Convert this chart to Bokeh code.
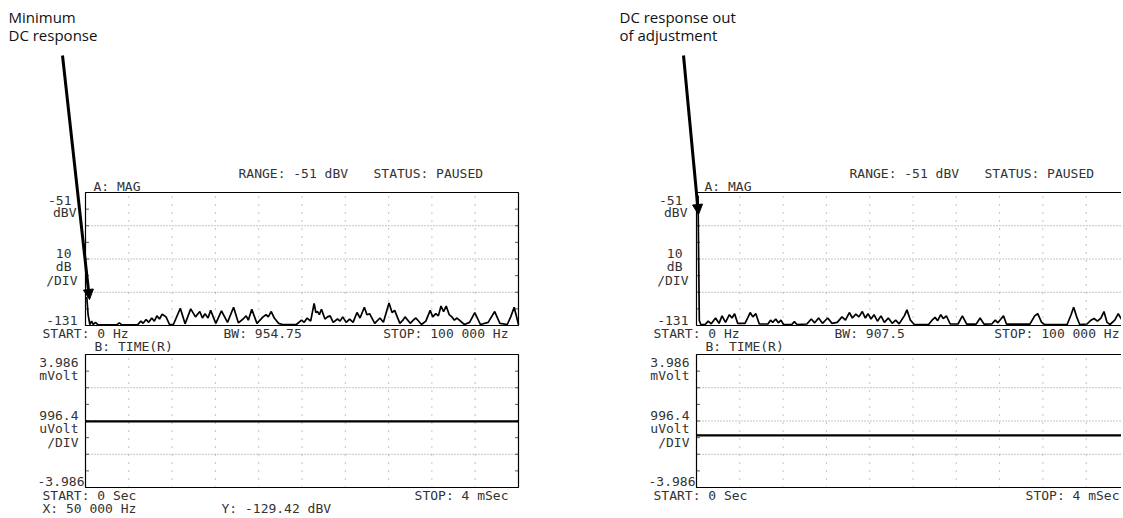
from bokeh.plotting import figure
from bokeh.models import Range1d, Label, Arrow, NormalHead
from bokeh.embed import file_html
from bokeh.resources import INLINE

# ---------------- data ----------------
freq_left_khz = [0, 0.3, 0.6, 1.0, 1.4, 1.8, 2.3, 2.9, 7.2, 7.8, 8.4, 12.0, 12.8, 13.3, 14.0, 14.6,
                 15.3, 15.9, 16.5, 17.1, 17.7, 18.6, 19.4, 20.3, 21.9, 23.0, 24.3, 25.4, 26.4, 27.0,
                 27.6, 28.3, 28.9, 30.1, 31.4, 32.8, 34.2, 35.3, 36.4, 37.1, 37.6, 38.4, 39.6, 41.0,
                 41.7, 42.2, 42.9, 43.6, 44.6, 45.5, 48.7, 49.9, 50.5, 51.2, 52.0, 52.8, 53.2, 53.6,
                 54.0, 54.5, 55.3, 55.9, 56.5, 57.2, 58.2, 58.8, 59.4, 60.2, 61.0, 61.8, 62.7, 63.4,
                 64.4, 65.0, 65.6, 66.8, 68.0, 68.8, 70.1, 70.8, 71.4, 72.6, 73.3, 73.8, 75.0, 75.7,
                 76.3, 77.6, 78.6, 79.6, 80.2, 80.9, 81.5, 82.1, 82.7, 83.3, 84.0, 84.6, 85.2, 85.8,
                 87.5, 88.7, 89.9, 91.2, 93.0, 94.5, 95.7, 97.4, 98.2, 99.0, 100.0]
mag_left_dbv = [-115, -114, -124.5, -130.4, -128.4, -130.4, -129.1, -130.6, -130.6, -129.4, -130.6,
                -130.6, -128.4, -129.7, -127.4, -129.1, -126.5, -128.4, -125.2, -127.1, -124.2,
                -125.8, -130.4, -130.4, -120.6, -130.0, -121.0, -125.8, -122.6, -126.5, -123.9,
                -126.5, -121.9, -129.7, -122.2, -129.1, -120.0, -129.4, -127.1, -125.2, -127.8,
                -121.3, -129.7, -125.8, -124.5, -125.8, -122.6, -126.5, -129.7, -130.4, -130.4,
                -127.8, -129.1, -126.5, -128.4, -117.7, -123.2, -122.6, -124.5, -121.3, -127.1,
                -125.8, -125.2, -129.1, -127.1, -128.4, -125.8, -129.1, -127.1, -129.1, -123.2,
                -126.5, -120.0, -124.5, -123.9, -129.7, -126.5, -129.1, -117.4, -123.2, -121.9,
                -129.7, -127.8, -125.8, -129.7, -127.8, -126.5, -130.4, -128.4, -121.9, -125.8,
                -123.9, -125.2, -119.3, -122.6, -119.3, -124.5, -125.8, -127.8, -126.5, -130.4,
                -129.1, -123.2, -130.4, -129.1, -122.6, -129.7, -130.4, -125.8, -120.0, -130.4]

freq_right_khz = [0, 0.35, 0.65, 1.0, 2.0, 2.7, 3.4, 4.4, 5.2, 5.9, 6.7, 7.6, 8.2, 8.8, 9.5, 11.2, 11.8,
                  12.4, 13.0, 13.7, 14.5, 16.5, 17.1, 17.6, 18.3, 18.9, 19.5, 20.1, 22.0, 22.6, 23.2,
                  25.5, 26.5, 27.3, 28.2, 29.1, 30.3, 31.3, 32.5, 33.6, 34.4, 35.3, 36.0, 36.8, 37.5,
                  38.3, 39.0, 39.6, 40.3, 41.0, 41.8, 42.6, 43.4, 44.3, 45.2, 46.0, 46.8, 48.0, 48.6,
                  49.4, 50.3, 53.6, 54.4, 55.1, 55.7, 56.4, 57.0, 57.7, 58.6, 60.4, 61.4, 62.4, 64.6,
                  65.5, 66.4, 68.2, 69.0, 69.6, 70.3, 70.9, 71.6, 77.0, 78.1, 78.8, 79.7, 80.4, 85.6,
                  86.5, 87.1, 87.8, 88.5, 90.2, 91.1, 91.8, 92.6, 93.4, 94.1, 94.8, 95.5, 96.6, 97.4,
                  98.3, 99.3, 100.0]
mag_right_dbv = [-54, -53, -128, -130.4, -130.4, -128.4, -130.0, -126.5, -129.7, -125.2, -129.1,
                 -124.5, -126.5, -123.9, -129.7, -129.7, -126.5, -123.2, -125.8, -123.9, -130.1,
                 -130.1, -127.8, -129.1, -127.1, -129.4, -127.8, -130.4, -130.4, -128.7, -130.4,
                 -130.1, -127.1, -129.4, -126.5, -129.7, -126.5, -129.7, -129.1, -125.8, -127.8,
                 -123.2, -126.5, -124.2, -125.8, -122.6, -126.5, -123.9, -127.1, -124.5, -128.4,
                 -125.2, -129.1, -126.5, -129.7, -127.8, -130.0, -125.2, -121.6, -127.8, -130.4,
                 -130.4, -127.8, -126.1, -128.1, -124.5, -126.8, -125.2, -130.1, -130.1, -125.2,
                 -130.2, -130.2, -126.5, -130.2, -130.1, -127.8, -129.4, -127.1, -125.2, -130.2,
                 -130.2, -125.2, -123.9, -129.1, -130.4, -130.4, -124.5, -120.0, -125.8, -130.4,
                 -130.1, -127.8, -126.8, -128.4, -126.5, -122.6, -129.1, -130.4, -127.8, -123.9,
                 -127.8, -130.2, -130.2]

assert len(freq_left_khz) == len(mag_left_dbv)
assert len(freq_right_khz) == len(mag_right_dbv)

time_ms = [0.0, 4.0]
volt_left_mv = [-0.02, -0.02]
volt_right_mv = [-0.86, -0.86]

freq_span_khz = [0, 100]
mag_span_dbv = [-131, -51]
time_span_ms = [0, 4]
volt_span_mv = [-3.986, 3.986]

captions_left = ["Minimum", "DC response"]
captions_right = ["DC response out", "of adjustment"]
bw_left = "BW: 954.75"
bw_right = "BW: 907.5"

# ---------------- layout (page pixels) ----------------
MARGIN = 0
W, H = 1121, 516
DX = 611                      # offset of the right-hand display
FX0, FX1 = 85, 518            # frame left / right
UY0, UY1 = 192, 325           # upper frame top / bottom
LY0, LY1 = 354, 487           # lower frame top / bottom

MONO = "DejaVu Sans Mono"
CAP_FONT = "Open Sans"
INK = "#333333"
GRID = "#8a8a8a"

p = figure(width=W, height=H, x_range=Range1d(0, W), y_range=Range1d(H, 0),
           output_backend="svg", toolbar_location=None, x_axis_type=None, y_axis_type=None,
           min_border=0, outline_line_color=None, background_fill_color="white",
           border_fill_color="white")

xr, yr = {}, {}


def make_ranges(name, x0, x1, y0, y1, xlo, xhi, ylo, yhi):
    cx0, cx1 = x0 - MARGIN, x1 - MARGIN
    cy0, cy1 = y0 - MARGIN, y1 - MARGIN
    kx = (xhi - xlo) / (cx1 - cx0)
    xr[name] = Range1d(xlo - cx0 * kx, xlo + (W - cx0) * kx)
    ky = (yhi - ylo) / (cy1 - cy0)
    yr[name] = Range1d(yhi - (H - cy0) * ky, yhi + cy0 * ky)


def label(x, y, text, align="left", size="13px", font=MONO, color=INK):
    p.add_layout(Label(x=x - MARGIN, y=y - MARGIN, text=text, text_font=font,
                       text_font_size=size, text_color=color, text_align=align,
                       text_baseline="middle"))


def frame(name, xspan, yspan):
    xlo, xhi = xspan
    ylo, yhi = yspan
    kw = dict(x_range_name=name, y_range_name=name)
    xs = [xlo + (xhi - xlo) * k / 10 for k in range(1, 10)]
    p.segment(x0=xs, y0=[ylo] * 9, x1=xs, y1=[yhi] * 9, line_color=GRID,
              line_width=1, line_dash="1 7", **kw)
    ys = [ylo + (yhi - ylo) * j / 8 for j in (2, 4, 6)]
    p.segment(x0=[xlo] * 3, y0=ys, x1=[xhi] * 3, y1=ys, line_color=GRID,
              line_width=1, line_dash="1 2", **kw)
    tk = [ylo + (yhi - ylo) * j / 8 for j in range(1, 8)]
    dxt = (xhi - xlo) * 0.008
    p.segment(x0=[xlo] * 7, y0=tk, x1=[xlo + dxt] * 7, y1=tk, line_color="#555", line_width=1, **kw)
    p.segment(x0=[xhi] * 7, y0=tk, x1=[xhi - dxt] * 7, y1=tk, line_color="#555", line_width=1, **kw)
    p.quad(left=[xlo], right=[xhi], bottom=[ylo], top=[yhi], fill_alpha=0,
           line_color="black", line_width=1.2, **kw)


def panel(tag, dx, freq, mag, volt, bw, captions, arrow_from, arrow_to, show_xy):
    up, lo = tag + "_up", tag + "_lo"
    make_ranges(up, FX0 + dx, FX1 + dx, UY0, UY1, freq_span_khz[0], freq_span_khz[1],
                mag_span_dbv[0], mag_span_dbv[1])
    make_ranges(lo, FX0 + dx, FX1 + dx, LY0, LY1, time_span_ms[0], time_span_ms[1],
                volt_span_mv[0], volt_span_mv[1])
    frame(up, freq_span_khz, mag_span_dbv)
    frame(lo, time_span_ms, volt_span_mv)
    p.line(freq, mag, line_color="black", line_width=1.7, x_range_name=up, y_range_name=up)
    p.line(time_ms, volt, line_color="black", line_width=2.4, x_range_name=lo, y_range_name=lo)

    # captions + arrow
    label(8 + dx, 16, captions[0], size="15px", font=CAP_FONT, color="#111")
    label(8 + dx, 34, captions[1], size="15px", font=CAP_FONT, color="#111")
    p.add_layout(Arrow(x_start=arrow_from[0] - MARGIN, y_start=arrow_from[1] - MARGIN,
                       x_end=arrow_to[0] - MARGIN, y_end=arrow_to[1] - MARGIN,
                       line_width=3, line_color="black",
                       end=NormalHead(size=10, fill_color="black", line_color="black")))

    # instrument texts
    label(238 + dx, 173, "RANGE: -51 dBV")
    label(373 + dx, 173, "STATUS: PAUSED")
    label(93 + dx, 186, "A: MAG")
    label(71 + dx, 200, "-51", align="right")
    label(76 + dx, 212, "dBV", align="right")
    label(71 + dx, 253, "10", align="right")
    label(71 + dx, 266, "dB", align="right")
    label(77 + dx, 280, "/DIV", align="right")
    label(77 + dx, 320, "-131", align="right")
    label(42 + dx, 333, "START: 0  Hz")
    label(223 + dx, 333, bw)
    label(508 + dx, 333, "STOP: 100 000 Hz", align="right")
    label(94 + dx, 346, "B: TIME(R)")
    label(78 + dx, 362, "3.986", align="right")
    label(78 + dx, 375, "mVolt", align="right")
    label(78 + dx, 415, "996.4", align="right")
    label(78 + dx, 428, "uVolt", align="right")
    label(78 + dx, 442, "/DIV", align="right")
    label(84 + dx, 481, "-3.986", align="right")
    label(42 + dx, 495, "START: 0  Sec")
    label(508 + dx, 495, "STOP: 4 mSec", align="right")
    if show_xy:
        label(42 + dx, 508, "X: 50 000 Hz")
        label(221 + dx, 508, "Y: -129.42 dBV")


panel("L", 0, freq_left_khz, mag_left_dbv, volt_left_mv, bw_left, captions_left,
      (62, 55), (89, 299), True)
panel("R", DX, freq_right_khz, mag_right_dbv, volt_right_mv, bw_right, captions_right,
      (683, 55), (698, 214), False)

p.extra_x_ranges = xr
p.extra_y_ranges = yr

open("out.html", "w").write(file_html(p, INLINE))
